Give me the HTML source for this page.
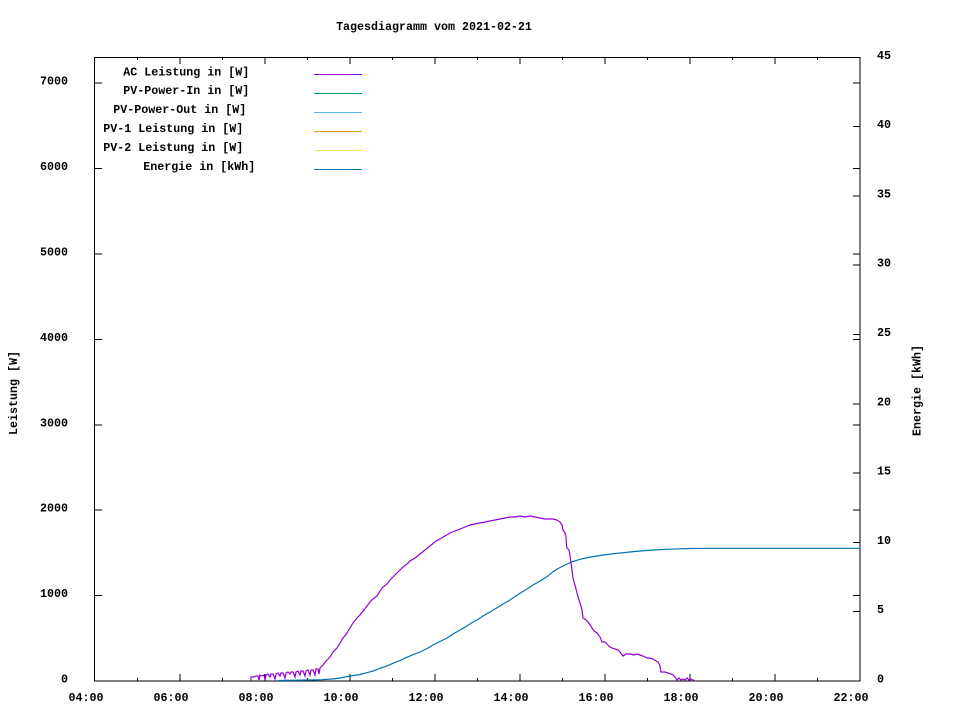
<!DOCTYPE html>
<html><head><meta charset="utf-8"><style>
html,body{margin:0;padding:0;background:#fff;}
svg{display:block;}
text{font-family:"Liberation Mono",monospace;font-weight:bold;font-size:11.67px;fill:#000;}
</style></head><body>
<svg width="960" height="720" viewBox="0 0 960 720" xmlns="http://www.w3.org/2000/svg">
<rect x="0" y="0" width="960" height="720" fill="#fff"/>
<text x="434" y="27" text-anchor="middle" dominant-baseline="central">Tagesdiagramm vom 2021-02-21</text>

<g stroke="#000" stroke-width="1" shape-rendering="crispEdges" fill="none">
<rect x="94.5" y="57.5" width="765.5" height="623.5"/>
<!-- left y ticks + mirrored on right -->
<path d="M95 595.6h7M95 510.2h7M95 424.8h7M95 339.4h7M95 254h7M95 168.6h7M95 83.2h7
M860 595.6h-7M860 510.2h-7M860 424.8h-7M860 339.4h-7M860 254h-7M860 168.6h-7M860 83.2h-7"/>
<!-- y2 ticks right -->
<path d="M860 611.7h-7M860 542.4h-7M860 473.1h-7M860 403.8h-7M860 334.5h-7M860 265.2h-7M860 195.9h-7M860 126.6h-7"/>
<!-- x major ticks -->
<path d="M180 681v-7M265 681v-7M350 681v-7M435 681v-7M520 681v-7M605 681v-7M690 681v-7M775 681v-7
M180 57v7M265 57v7M350 57v7M435 57v7M520 57v7M605 57v7M690 57v7M775 57v7"/>
<!-- x minor ticks -->
<path d="M137.5 681v-3M222.5 681v-3M307.5 681v-3M392.5 681v-3M477.5 681v-3M562.5 681v-3M647.5 681v-3M732.5 681v-3M817.5 681v-3
M137.5 57v3M222.5 57v3M307.5 57v3M392.5 57v3M477.5 57v3M562.5 57v3M647.5 57v3M732.5 57v3M817.5 57v3"/>
</g>

<!-- left tick labels -->
<g text-anchor="end" dominant-baseline="central">
<text x="68" y="679.5">0</text>
<text x="68" y="594">1000</text>
<text x="68" y="508.7">2000</text>
<text x="68" y="423.3">3000</text>
<text x="68" y="337.9">4000</text>
<text x="68" y="252.5">5000</text>
<text x="68" y="167.1">6000</text>
<text x="68" y="81.7">7000</text>
</g>
<!-- right tick labels -->
<g text-anchor="start" dominant-baseline="central">
<text x="877" y="679.5">0</text>
<text x="877" y="610.2">5</text>
<text x="877" y="540.9">10</text>
<text x="877" y="471.6">15</text>
<text x="877" y="402.3">20</text>
<text x="877" y="333">25</text>
<text x="877" y="263.7">30</text>
<text x="877" y="194.4">35</text>
<text x="877" y="125.1">40</text>
<text x="877" y="55.8">45</text>
</g>
<!-- x tick labels -->
<g text-anchor="middle" dominant-baseline="central">
<text x="86" y="698">04:00</text>
<text x="171" y="698">06:00</text>
<text x="256" y="698">08:00</text>
<text x="341" y="698">10:00</text>
<text x="426" y="698">12:00</text>
<text x="511" y="698">14:00</text>
<text x="596" y="698">16:00</text>
<text x="681" y="698">18:00</text>
<text x="766" y="698">20:00</text>
<text x="851" y="698">22:00</text>
</g>
<!-- axis labels -->
<text x="14" y="393" text-anchor="middle" dominant-baseline="central" transform="rotate(-90 14 393)">Leistung [W]</text>
<text x="917.5" y="390.5" text-anchor="middle" dominant-baseline="central" transform="rotate(-90 917.5 390.5)">Energie [kWh]</text>

<!-- legend -->
<g dominant-baseline="central">
<text x="123.3" y="72.3">AC Leistung in [W]</text>
<text x="123.3" y="91.2">PV-Power-In in [W]</text>
<text x="113.3" y="110.2">PV-Power-Out in [W]</text>
<text x="103.3" y="129.2">PV-1 Leistung in [W]</text>
<text x="103.3" y="148.2">PV-2 Leistung in [W]</text>
<text x="143.3" y="167.2">Energie in [kWh]</text>
</g>
<g stroke-width="1" shape-rendering="crispEdges">
<path d="M314 74.5h48" stroke="#9400d3"/>
<path d="M314 93.5h48" stroke="#009e73"/>
<path d="M314 112.5h48" stroke="#56b4e9"/>
<path d="M314 131.5h48" stroke="#e69f00"/>
<path d="M314 150.5h48" stroke="#f0e442"/>
<path d="M314 169.5h48" stroke="#0072b2"/>
</g>

<!-- Energie curve -->
<polyline fill="none" stroke="#0072b2" stroke-width="1.2" points="278,680.5 310,680 322,679.7 332,679 340,678 350,676 360,674.5 367,672.7 373,671 380,668.3 387,666 393,663.3 400,660.5 407,657.3 413,654.7 420,652 427,648.5 433,645 440,641.5 447,638 453,634 460,630 467,626 473,622 477,620 483,616 490,612 497,607.7 503,604 510,600 515,596.5 520,593.3 527,589 533,585 540,581 547,576.8 553,571.7 560,567.5 567,564 573,561.5 580,559.3 588,557.5 597,556 607,554.5 617,553.3 630,552 640,551 653,550 667,549.3 680,548.8 690,548.5 710,548.3 860,548.3"/>

<!-- AC curve -->
<polyline fill="none" stroke="#9400d3" stroke-width="1.2" points="251,681 251,677 254,677 256,676 258,676 259,680 260,675 262,676 264,675 265,680 266,675 268,674 270,677 271,674 273,674 275,679 276,674 278,673 280,676 281,673 283,673 285,678 286,673 288,672 290,674 291,672 293,672 295,677 296,672 298,671 300,675 301,671 303,671 305,676 306,671 308,670 310,675 311,670 313,670 315,675 316,669 318,669 319,674 320,668 323,665 326,661 330,657 333,652 337,648 340,643 343,638 347,633 350,628 353,623 357,618 360,615 363,611 367,606 370,602 373,599 377,596 380,591 383,587 387,584 390,580 393,577 397,573 400,570 403,567 407,564 410,561 415,558 420,554 425,550 430,546 436,541 440,539 445,536 450,533 455,531 460,529 465,527 470,525 475,524 480,523 485,522 490,521 495,520 500,519 505,518 510,517 515,517 520,516 525,517 530,516 535,517 540,518 545,519 550,519 553,519 557,520 560,522 562,525 563,530 565,533 566,537 566.5,545 567,548 569,550 570,556 571,563 572,570 573,578 574,582 575,585 577,593 579,600 581,606 582,610 583,618 585,619 588,622 590,625 592,628 594,631 597,633 600,637 602,642 605,642 607,644 610,647 612,648 615,649 618,650 620,652 623,656 626,654 630,654 634,655 637,654 640,655 643,656 647,658 650,658 653,659 656,661 658,662 660,666 661,672 665,672 668,673 671,674 673,675 675,677 677,680 679,678 681,680 683,679 685,680 687,678 689,680 691,679 693,680 695,681"/>
</svg>
</body></html>
